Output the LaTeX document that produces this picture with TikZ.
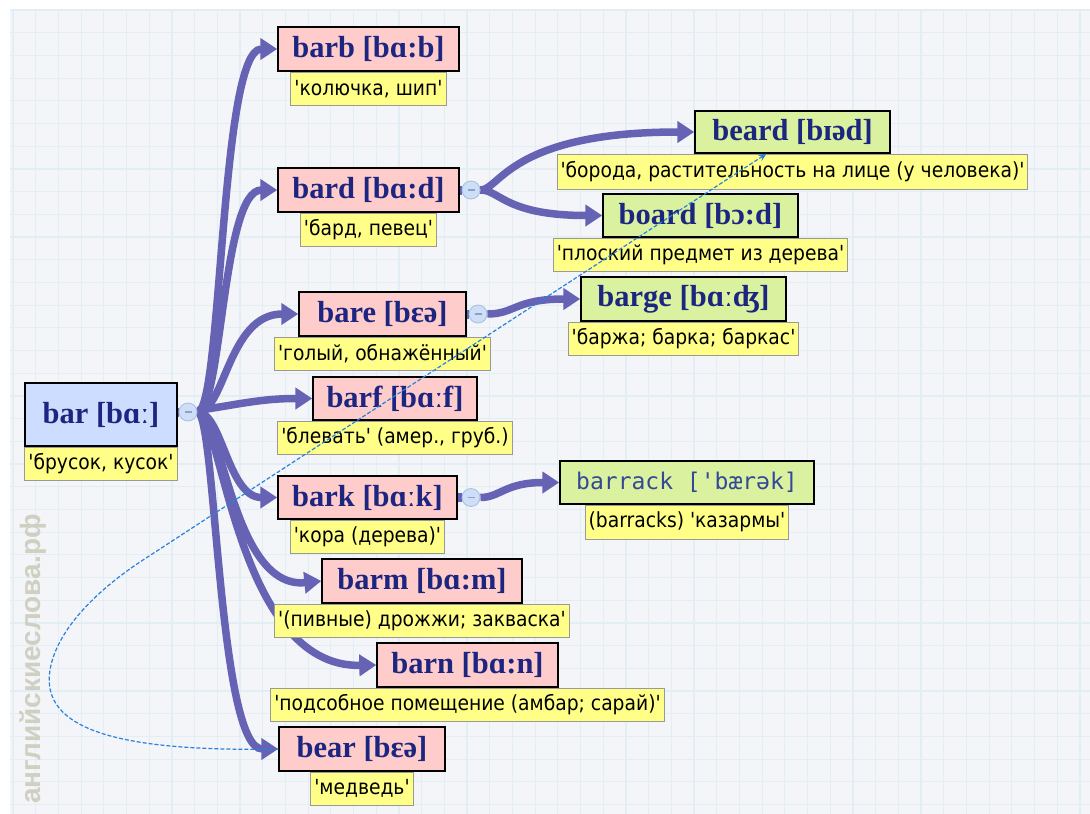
\documentclass[tikz,border=0pt]{standalone}
\usepackage{fontspec}
\usetikzlibrary{arrows.meta}
\newfontfamily\wordfont{Liberation Serif}[Ligatures=TeXOff]
\newfontfamily\glossfont{DejaVu Sans}[FakeStretch=0.9,Ligatures=TeXOff]
\newfontfamily\typefont{DejaVu Sans Mono}[Ligatures=TeXOff]
\newfontfamily\markfont{Liberation Sans}
\definecolor{bgc}{RGB}{243,245,248}
\definecolor{gridc}{RGB}{226,237,244}
\definecolor{pinkc}{RGB}{255,204,204}
\definecolor{greenc}{RGB}{218,242,160}
\definecolor{bluec}{RGB}{204,221,255}
\definecolor{yellowc}{RGB}{255,255,136}
\definecolor{inkc}{RGB}{28,38,128}
\definecolor{typec}{RGB}{52,72,150}
\definecolor{linkc}{RGB}{102,98,180}
\definecolor{dashc}{RGB}{40,130,220}
\definecolor{hubc}{RGB}{205,222,246}
\definecolor{hubline}{RGB}{165,190,230}
\definecolor{minusc}{RGB}{140,160,200}
\definecolor{markc}{RGB}{208,208,194}
\pgfdeclarelayer{bg}
\pgfdeclarelayer{edges}
\pgfsetlayers{bg,edges,main}
\tikzset{
 wordbox/.style={draw=black, line width=1.4pt, fill=pinkc, minimum height=44pt, inner sep=0pt,
   font=\wordfont\bfseries\fontsize{30.5}{31}\selectfont, text=inkc},
 newbox/.style={wordbox, fill=greenc},
 gloss/.style={draw=black!40, line width=1pt, fill=yellowc, minimum height=33pt, inner xsep=3.5pt, inner ysep=0pt,
   font=\glossfont\fontsize{20.8}{22}\selectfont, text=black, anchor=north},
 hub/.style={circle, draw=hubline, fill=hubc, line width=0.8pt, minimum size=18pt, inner sep=0pt,
   path picture={\draw[minusc, line width=1.2pt] ([xshift=-3.5pt]path picture bounding box.center) -- ([xshift=3.5pt]path picture bounding box.center);}},
 link/.style={draw=linkc, line width=7.5pt, -{Triangle[length=17pt,width=21pt]}},
 stem/.style={draw=linkc, line width=9pt},
 dashlink/.style={draw=dashc, line width=1.2pt, dash pattern=on 4pt off 2pt, -{Stealth[length=8pt,width=7pt]}},
 watermark/.style={rotate=90, text=markc, font=\markfont\bfseries\fontsize{28}{30}\selectfont},
}
\begin{document}
\begin{tikzpicture}[x=1pt,y=-1pt]
\useasboundingbox (0,0) rectangle (1090,814);
\begin{pgfonlayer}{bg}
\fill[bgc] (10,9) rectangle (1090,814);
\foreach \i in {0,...,47} \draw[gridc, line width=1.2pt] ({13+22.7*\i},9) -- ({13+22.7*\i},814);
\foreach \j in {0,...,35} \draw[gridc, line width=1.2pt] (10,{10+22.7*\j}) -- (1090,{10+22.7*\j});
\node[watermark] (wm) at (33,659) {английскиеслова.рф};
\end{pgfonlayer}

% word boxes
\node[wordbox, fill=bluec, minimum width=152pt, minimum height=63pt] (bar) at (101,414.5) {bar [bɑː]};
\node[gloss] (barG) at (bar.south) {'брусок, кусок'};

\node[wordbox, minimum width=181pt] (barb) at (368.5,49) {barb [bɑ:b]};
\node[gloss] (barbG) at (barb.south) {'колючка, шип'};
\node[wordbox, minimum width=181pt] (bard) at (368.5,190) {bard [bɑ:d]};
\node[gloss] (bardG) at (bard.south) {'бард, певец'};
\node[wordbox, minimum width=167pt] (bare) at (382.5,314) {bare [bɛə]};
\node[gloss] (bareG) at (bare.south) {'голый, обнажённый'};
\node[wordbox, minimum width=164pt, minimum height=43pt] (barf) at (395,398.5) {barf [bɑːf]};
\node[gloss] (barfG) at (barf.south) {'блевать' (амер., груб.)};
\node[wordbox, minimum width=179pt, minimum height=43pt] (bark) at (367.5,497.5) {bark [bɑːk]};
\node[gloss] (barkG) at (bark.south) {'кора (дерева)'};
\node[wordbox, minimum width=200pt] (barm) at (422,581) {barm [bɑ:m]};
\node[gloss] (barmG) at (barm.south) {'(пивные) дрожжи; закваска'};
\node[wordbox, minimum width=181pt] (barn) at (467.5,665) {barn [bɑ:n]};
\node[gloss] (barnG) at (barn.south) {'подсобное помещение (амбар; сарай)'};
\node[wordbox, minimum width=166pt] (bear) at (362,749) {bear [bɛə]};
\node[gloss] (bearG) at (bear.south) {'медведь'};

\node[newbox, minimum width=195pt, minimum height=42pt] (beard) at (792.5,132) {beard [bɪəd]};
\node[gloss, minimum height=35pt] (beardG) at (beard.south) {'борода, растительность на лице (у человека)'};
\node[newbox, minimum width=195pt, minimum height=43pt] (board) at (700.5,215.5) {board [bɔ:d]};
\node[gloss] (boardG) at (board.south) {'плоский предмет из дерева'};
\node[newbox, minimum width=205pt] (barge) at (683.5,299) {barge [bɑːʤ]};
\node[gloss] (bargeG) at (barge.south) {'баржа; барка; баркас'};
\node[newbox, minimum width=254pt, minimum height=43pt, font=\typefont\fontsize{23}{25}\selectfont, text=typec] (barrack) at (687,482.5) {barrack ['bærək]};
\node[gloss, minimum height=34pt] (barrackG) at (barrack.south) {(barracks) 'казармы'};

% hubs
\node[hub] (barc) at (188,412) {};
\node[hub] (bardc) at (471,190) {};
\node[hub] (barec) at (478,314) {};
\node[hub] (barkc) at (471,497.5) {};

\begin{pgfonlayer}{edges}
\draw[stem] (bar.east |- barc) -- (barc);
\draw[stem] (bard.east) -- (bardc);
\draw[stem] (bare.east) -- (barec);
\draw[stem] (bark.east) -- (barkc);
\draw[link] (barc) .. controls (222,412) and (220,49) .. (barb.west);
\draw[link] (barc) .. controls (222,412) and (222,190) .. (bard.west);
\draw[link] (barc) .. controls (225,412) and (228,314) .. (bare.west);
\draw[link] (barc) .. controls (240,404) and (262,398.5) .. (barf.west);
\draw[link] (barc) .. controls (222,412) and (228,497.5) .. (bark.west);
\draw[link] (barc) .. controls (222,412) and (232,590) .. (barm.west);
\draw[link] (barc) .. controls (222,412) and (236,668) .. (barn.west);
\draw[link] (barc) .. controls (216,412) and (218,749) .. (bear.west);
\draw[link] (bardc) .. controls (500,190) and (510,132) .. (beard.west);
\draw[link] (bardc) .. controls (500,190) and (505,215.5) .. (board.west);
\draw[link] (barec) .. controls (515,314) and (515,299) .. (barge.west);
\draw[link] (barkc) .. controls (500,497.5) and (505,482.5) .. (barrack.west);
\end{pgfonlayer}

\draw[dashlink] (bear.west) .. controls (120,752) and (40,730) .. (50,670)
  .. controls (57,628) and (100,588) .. (143,560) -- ([xshift=-26pt]beard.south);
\end{tikzpicture}
\end{document}
